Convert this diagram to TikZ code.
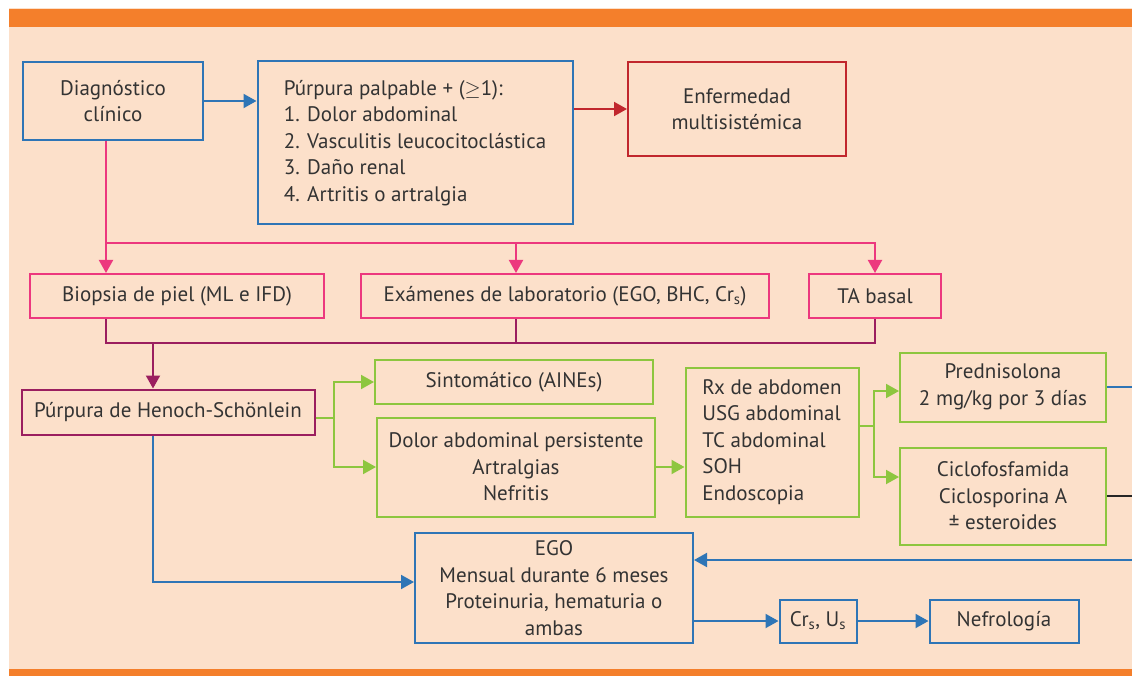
\documentclass[tikz,border=0pt]{standalone}
\usepackage{fontspec}
\setmainfont{PT Sans}
\usetikzlibrary{arrows.meta,positioning,calc}
\definecolor{fondo}{RGB}{252,224,202}
\definecolor{naranja}{RGB}{244,127,43}
\definecolor{azul}{RGB}{46,117,182}
\definecolor{rosa}{RGB}{236,56,126}
\definecolor{morado}{RGB}{155,31,95}
\definecolor{verde}{RGB}{141,198,63}
\definecolor{rojo}{RGB}{193,39,45}
\definecolor{texto}{RGB}{51,51,51}

\begin{document}
\begin{tikzpicture}[
    x=1pt, y=-1pt,
    box/.style={draw, line width=2pt, inner sep=0pt, align=center, text=texto, font=\fontsize{21}{26.5}\selectfont},
    arrow/.style={-{Triangle[length=13pt,width=14pt]}, line width=2pt},
    conn/.style={line width=2pt}
]
    % fondo
    \useasboundingbox (0,0) rectangle (1132,676);
    \fill[fondo] (9,8) rectangle (1132,676);
    \fill[naranja] (9,9) rectangle (1132,27);
    \fill[naranja] (9,669) rectangle (1132,676);

    % fila superior
    \node[box, draw=azul, minimum width=180pt, minimum height=78pt] (diag) at (113,101) {Diagnóstico\\clínico};
    \node[box, draw=azul, align=left, minimum width=315pt, minimum height=163pt] (crit) at (415,143) {Púrpura palpable + (\ensuremath{\geq}1):\\1. Dolor abdominal\\2. Vasculitis leucocitoclástica\\3. Daño renal\\4. Artritis o artralgia};
    \node[box, draw=rojo, minimum width=218pt, minimum height=94pt] (enf) at (737,109) {Enfermedad\\multisistémica};

    % estudios
    \node[box, draw=rosa, minimum width=294pt, minimum height=44pt] (biop) at (177,296) {Biopsia de piel (ML e IFD)};
    \node[box, draw=rosa, minimum width=408pt, minimum height=44pt] (exam) at (565,296) {Exámenes de laboratorio (EGO, BHC, Cr\textsubscript{s})};
    \node[box, draw=rosa, minimum width=132pt, minimum height=44pt] (ta) at (875,296) {TA basal};

    % tratamiento
    \node[box, draw=morado, minimum width=293pt, minimum height=45pt] (hsp) at (168,412) {Púrpura de Henoch-Schönlein};
    \node[box, draw=verde, minimum width=278pt, minimum height=44pt] (sint) at (514,382) {Sintomático (AINEs)};
    \node[box, draw=verde, minimum width=278pt, minimum height=99pt] (dolor) at (516,467) {Dolor abdominal persistente\\Artralgias\\Nefritis};
    \node[box, draw=verde, align=left, minimum width=173pt, minimum height=149pt] (rx) at (772,442) {Rx de abdomen\\USG abdominal\\TC abdominal\\SOH\\Endoscopia};
    \node[box, draw=verde, minimum width=206pt, minimum height=69pt] (pred) at (1003,387) {Prednisolona\\2 mg/kg por 3 días};
    \node[box, draw=verde, minimum width=206pt, minimum height=97pt] (ciclo) at (1003,496) {Ciclofosfamida\\Ciclosporina A\\± esteroides};

    % seguimiento renal
    \node[box, draw=azul, minimum width=278pt, minimum height=110pt] (ego) at (554,588) {EGO\\Mensual durante 6 meses\\Proteinuria, hematuria o\\ambas};
    \node[box, draw=azul, minimum width=77pt, minimum height=43pt] (cr) at (818,621) {Cr\textsubscript{s}, U\textsubscript{s}};
    \node[box, draw=azul, minimum width=149pt, minimum height=43pt] (nef) at (1004,621) {Nefrología};

    % puntos de quiebre
    \coordinate (pk) at (106,243);
    \coordinate (pkE) at (516,243);
    \coordinate (mg) at (153,343);
    \coordinate (gs) at (334,418);
    \coordinate (gs2) at (874,426);
    \coordinate (borde) at (1132,560);

    % conexiones
    \draw[arrow, azul] (diag.east) -- (diag.east -| crit.west);
    \draw[arrow, rojo] (crit.east |- enf.west) -- (enf.west);
    \draw[arrow, rosa] (pk |- diag.south) -- (pk |- biop.north);
    \draw[arrow, rosa] (pk) -| (ta.north);
    \draw[arrow, rosa] (pkE) -- (pkE |- exam.north);
    \draw[conn, morado] (pk |- biop.south) |- (ta.south |- mg) -- (ta.south);
    \draw[conn, morado] (pkE |- exam.south) -- (pkE |- mg);
    \draw[arrow, morado] (mg) -- (mg |- hsp.north);
    \draw[conn, verde] (hsp.east |- gs) -- (gs);
    \draw[arrow, verde] (gs) |- (sint.west);
    \draw[arrow, verde] (gs) |- (dolor.west);
    \draw[arrow, verde] (dolor.east) -- (dolor.east -| rx.west);
    \draw[conn, verde] (rx.east |- gs2) -- (gs2);
    \draw[arrow, verde] (gs2) |- ($(pred.west)+(0,4)$);
    \draw[arrow, verde] (gs2) |- ($(ciclo.west)+(0,-19)$);
    \draw[conn, azul] (pred.east) -- (pred.east -| borde);
    \draw[conn, black!85] (ciclo.east) -- (ciclo.east -| borde);
    \draw[arrow, azul] (borde) -- (borde -| ego.east);
    \draw[arrow, azul] (mg |- hsp.south) |- ($(ego.west)+(0,-6)$);
    \draw[arrow, azul] (ego.east |- cr.west) -- (cr.west);
    \draw[arrow, azul] (cr.east) -- (nef.west);
\end{tikzpicture}
\end{document}
